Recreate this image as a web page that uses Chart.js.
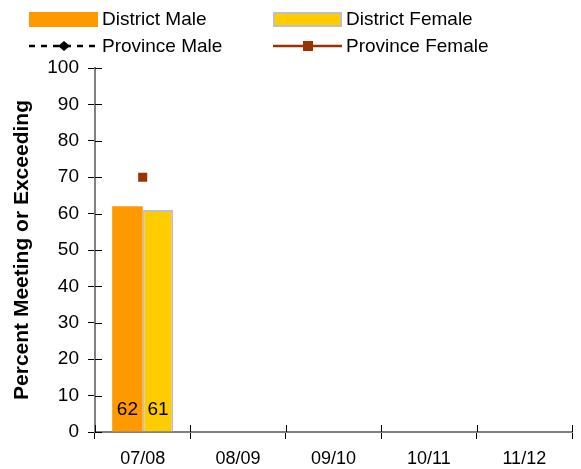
<!DOCTYPE html>
<html>
<head>
<meta charset="utf-8">
<script src="https://cdn.jsdelivr.net/npm/chart.js@4.4.1/dist/chart.umd.min.js"></script>
<style>
  html, body { margin: 0; padding: 0; background: #fff; }
  #wrap { width: 581px; height: 469px; position: relative; }
</style>
</head>
<body>
<div id="wrap"><canvas id="chart"></canvas></div>
<script>
const years = ["07/08", "08/09", "09/10", "10/11", "11/12"];
const districtMale = [62, null, null, null, null];
const districtFemale = [61, null, null, null, null];
const provinceMale = [null, null, null, null, null];
const provinceFemale = [70, null, null, null, null];
const yTicks = [0, 100, 10];

const FONT = "'Liberation Sans', Arial, sans-serif";

// legend drawn in two columns like the original
const legendPlugin = {
  id: "twoColLegend",
  afterDraw(chart) {
    const c = chart.ctx;
    c.save();
    c.font = "19px " + FONT;
    c.textBaseline = "middle";
    c.fillStyle = "#000";
    const items = [
      { x: 29, y: 19, text: "District Male", kind: "bar", fill: "#FF9900", border: null },
      { x: 273, y: 19, text: "District Female", kind: "bar", fill: "#FFCC00", border: "#C0C0C0" },
      { x: 29, y: 46, text: "Province Male", kind: "line", color: "#000", dash: [6, 6], marker: "diamond" },
      { x: 273, y: 46, text: "Province Female", kind: "line", color: "#993300", dash: [], marker: "square" }
    ];
    items.forEach(it => {
      if (it.kind === "bar") {
        c.fillStyle = it.fill;
        c.fillRect(it.x, it.y - 7, 69, 15);
        if (it.border) {
          c.strokeStyle = it.border;
          c.lineWidth = 2;
          c.strokeRect(it.x + 1, it.y - 6, 67, 13);
        }
      } else {
        c.strokeStyle = it.color;
        c.lineWidth = 2.5;
        c.setLineDash(it.dash);
        c.beginPath();
        c.moveTo(it.x, it.y);
        c.lineTo(it.x + 69, it.y);
        c.stroke();
        c.setLineDash([]);
        c.fillStyle = it.color;
        const mx = it.x + 35;
        if (it.marker === "square") {
          c.fillRect(mx - 5, it.y - 5, 10, 10);
        } else {
          c.beginPath();
          c.moveTo(mx, it.y - 5);
          c.lineTo(mx + 6, it.y);
          c.lineTo(mx, it.y + 5);
          c.lineTo(mx - 6, it.y);
          c.closePath();
          c.fill();
        }
      }
      c.fillStyle = "#000";
      c.fillText(it.text, it.x + 73, it.y + 1);
    });
    c.restore();
  }
};

// tick marks crossing the axis lines, and value labels at the bottom of bars
const extrasPlugin = {
  id: "extras",
  afterDatasetsDraw(chart) {
    const c = chart.ctx;
    const y = chart.scales.y;
    const x = chart.scales.x;
    const area = chart.chartArea;
    c.save();
    c.strokeStyle = "#000";
    c.lineWidth = 1;
    y.ticks.forEach((t, i) => {
      const py = Math.round(y.getPixelForTick(i)) + 0.5;
      c.beginPath();
      c.moveTo(area.left, py);
      c.lineTo(area.left + 7, py);
      c.stroke();
    });
    for (let i = 0; i <= years.length; i++) {
      const px = Math.round(x.left + i * (x.width / years.length)) + 0.5;
      c.beginPath();
      c.moveTo(px, area.bottom);
      c.lineTo(px, area.bottom - 7);
      c.stroke();
    }
    c.font = "19px " + FONT;
    c.fillStyle = "#000";
    c.textAlign = "center";
    c.textBaseline = "middle";
    [0, 1].forEach(di => {
      const meta = chart.getDatasetMeta(di);
      meta.data.forEach((el, i) => {
        const v = chart.data.datasets[di].data[i];
        if (v == null) return;
        c.fillText(String(v), el.x, area.bottom - 22);
      });
    });
    c.restore();
  }
};

new Chart(document.getElementById("chart"), {
  type: "bar",
  data: {
    labels: years,
    datasets: [
      {
        label: "District Male",
        data: districtMale,
        backgroundColor: "#FF9900",
        borderWidth: 0,
        categoryPercentage: 0.64,
        barPercentage: 1.0,
        order: 2
      },
      {
        label: "District Female",
        data: districtFemale,
        backgroundColor: "#FFCC00",
        borderColor: "#C0C0C0",
        borderWidth: 2,
        borderSkipped: "bottom",
        categoryPercentage: 0.64,
        barPercentage: 1.0,
        order: 2
      },
      {
        type: "line",
        label: "Province Male",
        data: provinceMale,
        borderColor: "#000",
        backgroundColor: "#000",
        borderDash: [6, 6],
        borderWidth: 2,
        pointStyle: "rectRot",
        pointRadius: 5,
        order: 1
      },
      {
        type: "line",
        label: "Province Female",
        data: provinceFemale,
        borderColor: "#993300",
        backgroundColor: "#993300",
        borderWidth: 2,
        pointStyle: "rect",
        pointRadius: 5,
        order: 1
      }
    ]
  },
  options: {
    responsive: true,
    maintainAspectRatio: false,
    animation: false,
    layout: { padding: { top: 68, right: 9, left: 0, bottom: 0 } },
    plugins: {
      legend: { display: false },
      tooltip: { enabled: false },
      title: { display: false }
    },
    scales: {
      x: {
        offset: true,
        border: { display: true, color: "#808080", width: 2 },
        grid: { offset: true, drawOnChartArea: false, tickLength: 7, color: "#000" },
        ticks: { color: "#000", font: { family: FONT, size: 18 }, padding: 9, maxRotation: 0 },
        afterFit(s) { s.height = 37; }
      },
      y: {
        min: yTicks[0],
        max: yTicks[1],
        border: { display: true, color: "#808080", width: 2 },
        grid: { drawOnChartArea: false, tickLength: 7, color: "#000" },
        ticks: { stepSize: yTicks[2], color: "#000", font: { family: FONT, size: 19 }, padding: 9 },
        title: {
          display: true,
          text: "Percent Meeting or Exceeding",
          color: "#000",
          font: { family: FONT, size: 21, weight: "bold" },
          padding: { top: 10, bottom: 0 }
        },
        afterFit(s) { s.width = 95; }
      }
    }
  },
  plugins: [legendPlugin, extrasPlugin]
});
</script>
</body>
</html>
